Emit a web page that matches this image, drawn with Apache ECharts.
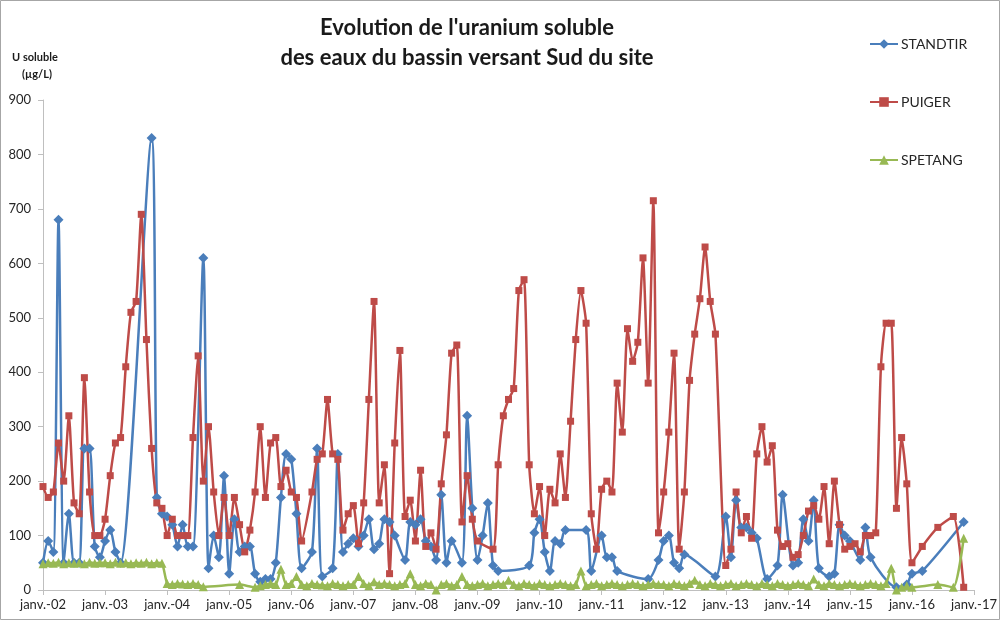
<!DOCTYPE html>
<html>
<head>
<meta charset="utf-8">
<script src="https://cdn.jsdelivr.net/npm/echarts@6/dist/echarts.min.js"></script>
<style>
html,body{margin:0;padding:0;background:#fff;}
#c{width:1000px;height:620px;}
</style>
</head>
<body>
<div id="c"></div>
<script>
// Monthly series, index 0 = janv. 2002, one row per year (null = no sample)
const startYear = 2002;
const yearTicks = ['janv.-02','janv.-03','janv.-04','janv.-05','janv.-06','janv.-07','janv.-08','janv.-09','janv.-10','janv.-11','janv.-12','janv.-13','janv.-14','janv.-15','janv.-16','janv.-17'];
const seriesNames = ['STANDTIR','PUIGER','SPETANG'];

const standtir = [
  50,90,70,680,50,140,50,50,260,260,80,60,
  90,110,70,50,null,null,null,null,null,830,170,140,
  135,120,80,120,80,80,null,610,40,100,60,210,
  30,130,70,80,80,30,15,20,20,50,170,250,
  240,140,40,null,70,260,25,null,40,250,70,85,
  95,80,100,130,75,85,130,125,100,null,55,125,
  120,130,90,80,55,175,50,90,null,50,320,150,
  55,100,160,45,35,null,null,null,null,null,45,105,
  130,70,35,90,85,110,null,null,null,110,35,null,
  100,60,60,35,null,null,null,null,null,20,null,55,
  90,100,50,40,65,null,null,null,null,null,25,null,
  135,60,165,115,115,105,95,null,20,null,45,175,
  null,45,50,130,90,165,40,null,25,30,120,100,
  90,null,55,115,60,null,null,null,null,5,null,10,
  30,null,35,null,null,null,null,null,null,null,125,null
];

const puiger = [
  190,170,180,270,200,320,160,140,390,180,100,100,
  130,210,270,280,410,510,530,690,460,260,160,150,
  100,130,100,100,100,280,430,200,300,180,100,170,
  100,170,120,70,110,180,300,170,270,280,190,220,
  180,170,90,null,180,240,250,350,250,240,110,140,
  155,85,160,350,530,160,230,30,270,440,135,165,
  90,220,80,105,75,195,285,435,450,125,210,130,
  90,null,null,75,230,320,350,370,550,570,230,140,
  190,100,185,160,250,170,310,460,550,490,140,75,
  185,200,180,380,290,480,420,455,610,380,715,105,
  180,290,435,75,180,385,470,535,630,530,470,null,
  45,75,180,105,135,95,250,300,235,265,110,80,
  85,60,65,100,145,155,130,190,85,200,120,75,
  80,85,70,100,100,105,410,490,490,150,280,195,
  50,null,80,null,null,115,null,null,135,null,5,null
];

const spetang = [
  48,50,49,51,48,50,49,50,48,51,49,50,
  50,48,51,49,50,48,50,49,51,48,50,49,
  12,10,12,11,10,12,10,6,null,null,null,null,
  null,null,10,null,null,5,8,10,12,10,38,10,
  12,25,10,8,12,10,9,8,12,10,8,10,
  10,25,12,8,15,10,12,10,8,10,12,30,
  10,8,12,10,0,10,12,8,10,25,10,8,
  10,12,8,10,12,10,18,10,8,12,10,8,
  12,10,8,10,12,10,8,10,35,8,10,12,
  8,10,12,10,8,10,12,10,8,10,12,10,
  10,8,12,10,8,12,18,10,8,12,10,8,
  10,12,8,10,12,10,8,12,10,8,12,10,
  8,10,12,10,8,20,10,8,12,10,8,10,
  12,10,8,10,12,10,8,12,40,0,5,8,
  5,null,null,null,null,10,null,null,5,null,95,null
];

function toPoints(arr){
  const out = [];
  arr.forEach((v,i)=>{ if(v!==null) out.push([startYear + i/12, v]); });
  return out;
}

const chart = echarts.init(document.getElementById('c'), null, {renderer:'canvas'});
const FONT = 'Lato, "Open Sans", sans-serif';
const colors = ['#4A7EBB','#BE4B48','#98B954'];

chart.setOption({
  animation:false,
  backgroundColor:'#fff',
  color: colors,
  grid:{left:43, right:20, top:100, bottom:30, containLabel:false},
  legend:{
    orient:'vertical', left:864, top:32, itemGap:44, itemWidth:28, itemHeight:12,
    data: seriesNames,
    textStyle:{fontFamily:FONT, fontSize:14, color:'#262626', padding:[0,0,0,-2]}
  },
  xAxis:{
    type:'value', min:2002, max:2017, interval:1,
    axisLine:{lineStyle:{color:'#bfbfbf', width:1}},
    axisTick:{show:true, length:5, lineStyle:{color:'#bfbfbf'}},
    splitLine:{show:false},
    axisLabel:{fontFamily:FONT, fontSize:13, color:'#262626', margin:8,
      formatter:(v)=>yearTicks[Math.round(v-startYear)] || ''}
  },
  yAxis:{
    type:'value', min:0, max:900, interval:100,
    axisLine:{show:true, lineStyle:{color:'#bfbfbf', width:1}},
    axisTick:{show:true, length:5, lineStyle:{color:'#bfbfbf'}},
    splitLine:{show:false},
    axisLabel:{fontFamily:FONT, fontSize:13, color:'#262626', margin:12}
  },
  graphic:[
    {type:'rect', shape:{x:0.5,y:0.5,width:999,height:619}, style:{fill:'none', stroke:'#a6a6a6', lineWidth:1}, silent:true},
    {type:'text', x:467, y:17, style:{text:"Evolution de l'uranium soluble", font:'bold 22px '+FONT, fill:'#1a1a1a', textAlign:'center'}},
    {type:'text', x:467, y:47, style:{text:'des eaux du bassin versant Sud du site', font:'bold 22px '+FONT, fill:'#1a1a1a', textAlign:'center'}},
    {type:'text', x:35, y:52, style:{text:'U soluble', font:'bold 11px '+FONT, fill:'#1a1a1a', textAlign:'center'}},
    {type:'text', x:37, y:69, style:{text:'(µg/L)', font:'bold 11px '+FONT, fill:'#1a1a1a', textAlign:'center'}}
  ],
  series:[
    {name:'STANDTIR', type:'line', data:toPoints(standtir), connectNulls:true, smooth:0.25,
     symbol:'diamond', symbolSize:10, lineStyle:{width:2.5, color:colors[0]}, itemStyle:{color:colors[0]}, clip:false},
    {name:'PUIGER', type:'line', data:toPoints(puiger), connectNulls:true, smooth:0.2,
     symbol:'rect', symbolSize:7, lineStyle:{width:2.5, color:colors[1]}, itemStyle:{color:colors[1]}, clip:false},
    {name:'SPETANG', type:'line', data:toPoints(spetang), connectNulls:true, smooth:0.2,
     symbol:'triangle', symbolSize:9, lineStyle:{width:2.5, color:colors[2]}, itemStyle:{color:colors[2]}, clip:false}
  ]
});
</script>
</body>
</html>
